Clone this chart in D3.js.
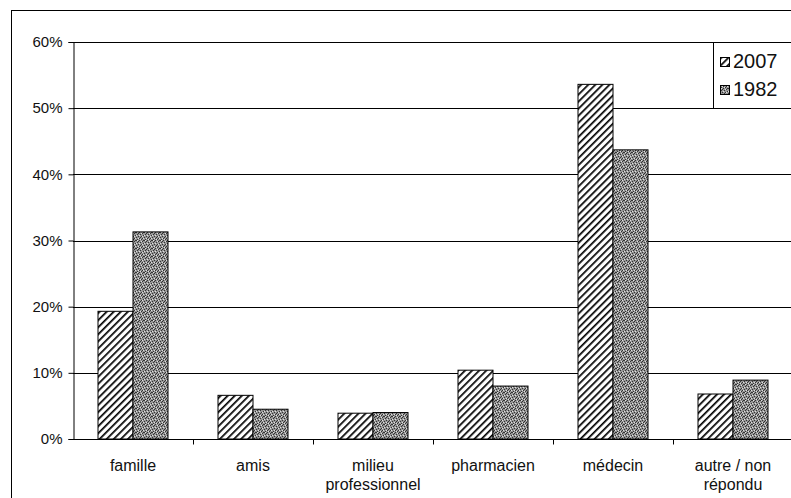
<!DOCTYPE html>
<html><head><meta charset="utf-8">
<script src="https://cdn.jsdelivr.net/npm/d3@7"></script>
<style>body{margin:0;background:#fff}svg{display:block}text{font-family:"Liberation Sans",Arial,sans-serif;fill:#111}</style>
</head><body>
<script>
const categories = ["famille", "amis", "milieu\nprofessionnel", "pharmacien", "médecin", "autre / non\nrépondu"];
const seriesNames = ["2007", "1982"];
const values2007 = [19.3, 6.6, 3.9, 10.4, 53.6, 6.8];
const values1982 = [31.3, 4.5, 4.0, 8.0, 43.7, 8.9];
const yTicks = [0, 10, 20, 30, 40, 50, 60];

(function () {
const W = 791, H = 498;
const svg = d3.select("body").append("svg").attr("width", W).attr("height", H);
const defs = svg.append("defs");
// hatch pattern for 2007
const hp = defs.append("pattern").attr("id", "hatch").attr("patternUnits", "userSpaceOnUse")
  .attr("width", 5).attr("height", 5).attr("patternTransform", "rotate(45)");
hp.append("rect").attr("width", 5).attr("height", 5).attr("fill", "#fff");
hp.append("rect").attr("x", 0).attr("width", 1.7).attr("height", 5).attr("fill", "#000");
// stipple texture for 1982
const sp = defs.append("pattern").attr("id", "stipple").attr("patternUnits", "userSpaceOnUse")
  .attr("width", 8).attr("height", 8);
sp.append("rect").attr("width", 8).attr("height", 8).attr("fill", "#969696");
const darkPx = [[0,0],[3,0],[6,1],[1,2],[4,2],[7,3],[2,4],[5,4],[0,5],[3,6],[6,6],[1,7],[5,7],[7,0],[2,1],[4,5]];
const lightPx = [[1,0],[5,1],[3,3],[0,3],[6,4],[2,6],[7,6],[4,7]];
darkPx.forEach(([px,py]) => sp.append("rect").attr("x", px).attr("y", py).attr("width", 1).attr("height", 1).attr("fill", "#333"));
lightPx.forEach(([px,py]) => sp.append("rect").attr("x", px).attr("y", py).attr("width", 1).attr("height", 1).attr("fill", "#e0e0e0"));

const mLeft = 73, mRight = 793, mTop = 42, mBottom = 439;
const x = d3.scaleBand().domain(categories).range([mLeft, mRight]);
const y = d3.scaleLinear().domain([0, 60]).range([mBottom, mTop]);
const barW = 35;
const x1 = d3.scaleBand().domain(seriesNames).range([0, barW * 2]);

// outer border
svg.append("line").attr("x1", 11.5).attr("x2", 11.5).attr("y1", 10).attr("y2", H).attr("stroke", "#000");
svg.append("line").attr("x1", 11).attr("x2", W).attr("y1", 10.5).attr("y2", 10.5).attr("stroke", "#000");

// gridlines
svg.append("g").selectAll("line").data(yTicks.filter(t => t > 0)).join("line")
  .attr("x1", mLeft).attr("x2", mRight)
  .attr("y1", d => Math.round(y(d)) + 0.5).attr("y2", d => Math.round(y(d)) + 0.5)
  .attr("stroke", "#000").attr("stroke-width", 1);

// bars
const series = [{name: "2007", vals: values2007, fill: "url(#hatch)"}, {name: "1982", vals: values1982, fill: "url(#stipple)"}];
series.forEach(s => {
  svg.append("g").selectAll("rect").data(categories).join("rect")
    .attr("x", (c) => x(c) + x.bandwidth() / 2 - barW + x1(s.name))
    .attr("y", (c, i) => y(s.vals[i]))
    .attr("width", barW)
    .attr("height", (c, i) => y(0) - y(s.vals[i]))
    .attr("fill", s.fill).attr("stroke", "#000").attr("stroke-width", 1);
});

// y axis
const yAxis = svg.append("g").attr("transform", `translate(${mLeft + 0.5},0)`)
  .call(d3.axisLeft(y).tickValues(yTicks).tickFormat(d => d + "%").tickSize(5).tickPadding(6));
yAxis.select(".domain").attr("stroke", "#000");
yAxis.selectAll("text").attr("font-size", 15).attr("fill", "#111").style("font-family", '"Liberation Sans",Arial,sans-serif');

// x axis
const xAxis = svg.append("g").attr("transform", `translate(0,${mBottom + 0.5})`);
xAxis.append("line").attr("x1", mLeft).attr("x2", mRight).attr("stroke", "#000");
xAxis.selectAll("line.tk").data(categories).join("line").attr("class", "tk")
  .attr("x1", c => Math.round(x(c) + x.bandwidth()) + 0.5).attr("x2", c => Math.round(x(c) + x.bandwidth()) + 0.5)
  .attr("y1", 0).attr("y2", 5).attr("stroke", "#000");
const lbl = svg.append("g").selectAll("text").data(categories).join("text")
  .attr("x", c => x(c) + x.bandwidth() / 2).attr("y", 471)
  .attr("text-anchor", "middle").attr("font-size", 16);
lbl.each(function(c) {
  const t = d3.select(this);
  c.split("\n").forEach((line, i) => t.append("tspan").attr("x", x(c) + x.bandwidth() / 2).attr("dy", i ? 19 : 0).text(line));
});

// legend
const lg = svg.append("g");
lg.append("rect").attr("x", 713.5).attr("y", 42.5).attr("width", 100).attr("height", 66)
  .attr("fill", "#fff").attr("stroke", "#000");
series.forEach((s, i) => {
  lg.append("rect").attr("x", 720.5).attr("y", 57.5 + i * 28).attr("width", 9).attr("height", 9)
    .attr("fill", s.fill).attr("stroke", "#000");
  lg.append("text").attr("x", 733).attr("y", 68 + i * 28).attr("font-size", 20).text(s.name);
});
})();
</script>
</body></html>
